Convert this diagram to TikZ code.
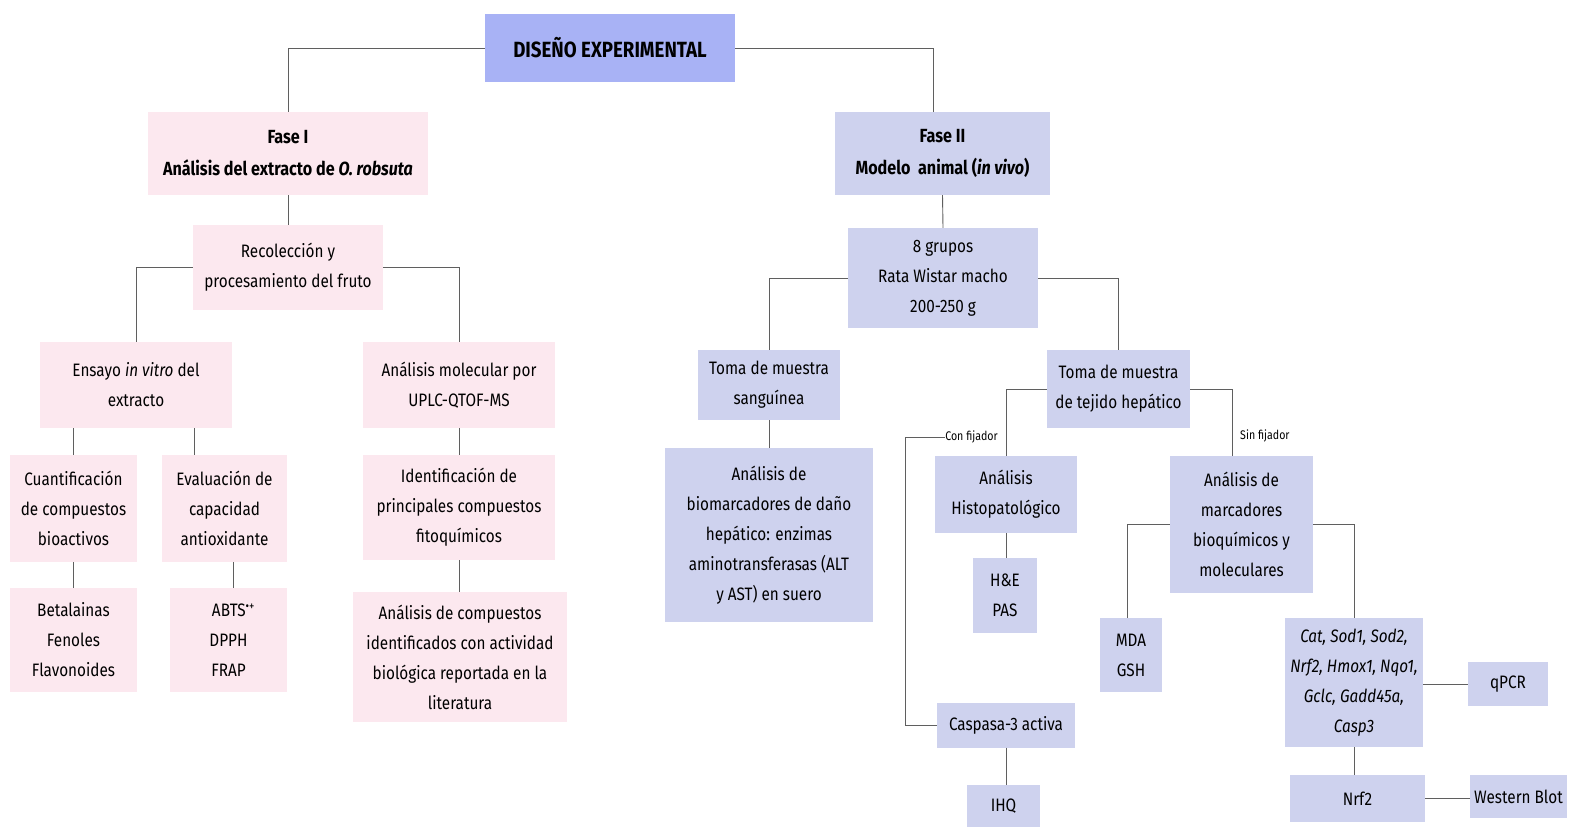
\documentclass[tikz,border=0pt]{standalone}
\usepackage{fontspec}
\setmainfont[FakeStretch=0.85]{Fira Sans}
\usetikzlibrary{calc}
\definecolor{pinkc}{RGB}{252,232,239}
\definecolor{bluec}{RGB}{206,210,238}
\definecolor{topc}{RGB}{168,178,245}
\definecolor{linec}{RGB}{95,95,95}
\begin{document}
\begin{tikzpicture}[x=1pt,y=-1pt,
  txt/.style={inner sep=0pt, align=center, text=black, font=\fontsize{18}{30}\selectfont},
  pbox/.style={txt, fill=pinkc},
  bbox/.style={txt, fill=bluec},
  lbl/.style={inner sep=0pt, font=\fontsize{12.5}{14}\selectfont},
  conn/.style={draw=linec, line width=0.9pt}]
\useasboundingbox (0,0) rectangle (1571,827);
\fill[white] (0,0) rectangle (1571,827);
% top
\node[txt, fill=topc, minimum width=250, minimum height=68, font=\bfseries\fontsize{22}{24}\selectfont] (top) at (610,48) {DISEÑO EXPERIMENTAL};
% Phase I
\node[pbox, minimum width=280, minimum height=83, font=\bfseries\fontsize{19}{32}\selectfont] (f1) at (288,153.5) {Fase I\\Análisis del extracto de \textit{O. robsuta}};
\node[pbox, minimum width=190, minimum height=85] (rec) at (288,267.5) {Recolección y\\procesamiento del fruto};
\node[pbox, minimum width=192, minimum height=86] (ens) at (136,385) {Ensayo \textit{in vitro} del\\extracto};
\node[pbox, minimum width=192, minimum height=86] (mol) at (459,385) {Análisis molecular por\\UPLC-QTOF-MS};
\node[pbox, minimum width=127, minimum height=107] (cuant) at (73.5,508.5) {Cuantificación\\de compuestos\\bioactivos};
\node[pbox, minimum width=125, minimum height=107] (eval) at (224.5,508.5) {Evaluación de\\capacidad\\antioxidante};
\node[pbox, minimum width=127, minimum height=104] (betal) at (73.5,640) {Betalainas\\Fenoles\\Flavonoides};
\node[pbox, minimum width=117, minimum height=104] (abts) at (228.5,640) {\hspace*{10pt}ABTS\textsuperscript{•+}\\DPPH\\FRAP};
\node[pbox, minimum width=192, minimum height=105] (ident) at (459,507.5) {Identificación de\\principales compuestos\\fitoquímicos};
\node[pbox, minimum width=214, minimum height=130] (anacomp) at (460,657) {Análisis de compuestos\\identificados con actividad\\biológica reportada en la\\literatura};
% Phase II
\node[bbox, minimum width=215, minimum height=83, font=\bfseries\fontsize{19}{32}\selectfont] (f2) at (942.5,153.5) {Fase II\\Modelo\ \ animal (\textit{in vivo})};
\node[bbox, minimum width=190, minimum height=100] (grp) at (943,278) {8 grupos\\Rata Wistar macho\\200-250 g};
\node[bbox, minimum width=142, minimum height=70] (tsang) at (769,385) {Toma de muestra\\sanguínea};
\node[bbox, minimum width=208, minimum height=174] (biom) at (769,535) {Análisis de\\biomarcadores de daño\\hepático: enzimas\\aminotransferasas (ALT\\y AST) en suero};
\node[bbox, minimum width=143, minimum height=78] (ttej) at (1118.5,389) {Toma de muestra\\de tejido hepático};
\node[bbox, minimum width=142, minimum height=77] (hist) at (1006,494.5) {Análisis\\Histopatológico};
\node[bbox, minimum width=64, minimum height=75] (hepas) at (1005,595.5) {H\&E\\PAS};
\node[bbox, minimum width=138, minimum height=45] (casp) at (1006,725) {Caspasa-3 activa};
\node[bbox, minimum width=73, minimum height=42] (ihq) at (1003.5,806) {IHQ};
\node[bbox, minimum width=143, minimum height=137] (marc) at (1241.5,524.5) {Análisis de\\marcadores\\bioquímicos y\\moleculares};
\node[bbox, minimum width=62, minimum height=74] (mda) at (1131,655) {MDA\\GSH};
\node[bbox, minimum width=138, minimum height=129, font=\itshape\fontsize{18}{30}\selectfont] (cat) at (1354,682.5) {Cat, Sod1, Sod2,\\Nrf2, Hmox1, Nqo1,\\Gclc, Gadd45a,\\Casp3};
\node[bbox, minimum width=80, minimum height=44] (qpcr) at (1508,684) {qPCR};
\node[bbox, minimum width=135, minimum height=47] (nrf) at (1357.5,798.5) {Nrf2};
\node[bbox, minimum width=97, minimum height=43] (wb) at (1518.5,796.5) {Western Blot};
% labels
\node[lbl, anchor=east] (cf) at (998,437) {Con fijador};
\node[lbl, anchor=west] (sf) at (1240,436) {Sin fijador};
\coordinate (cfc) at (905,437);
% connectors
\draw[conn] (top.west) -| (f1.north);
\draw[conn] (top.east) -| ([xshift=-9.5pt]f2.north);
\draw[conn] (f1.south) -- (rec.north);
\draw[conn] (rec.west) -| (ens.north);
\draw[conn] (rec.east) -| (mol.north);
\draw[conn] (cuant.north |- ens.south) -- (cuant.north);
\draw[conn] ([xshift=58pt]ens.south) -- ([xshift=-30.5pt]eval.north);
\draw[conn] (cuant.south) -- (betal.north);
\draw[conn] ([xshift=8.5pt]eval.south) -- ([xshift=4.5pt]abts.north);
\draw[conn] (mol.south) -- (ident.north);
\draw[conn] (ident.south) -- (ident.south |- anacomp.north);
\draw[conn] (f2.south) -- (grp.north);
\draw[conn] (grp.west) -| (tsang.north);
\draw[conn] (grp.east) -| (ttej.north);
\draw[conn] (tsang.south) -- (biom.north);
\draw[conn] (ttej.west) -| (hist.north);
\draw[conn] (ttej.east) -| ([xshift=-9.5pt]marc.north);
\draw[conn] (hist.south) -- (hist.south |- hepas.north);
\draw[conn] (cf.west) -- (cfc) |- (casp.west);
\draw[conn] (casp.south) -- (casp.south |- ihq.north);
\draw[conn] (marc.west) -| ([xshift=-4pt]mda.north);
\draw[conn] (marc.east) -| (cat.north);
\draw[conn] (cat.east |- qpcr.west) -- (qpcr.west);
\draw[conn] (cat.south) -- (cat.south |- nrf.north);
\draw[conn] (nrf.east) -- (nrf.east -| wb.west);
\end{tikzpicture}
\end{document}
